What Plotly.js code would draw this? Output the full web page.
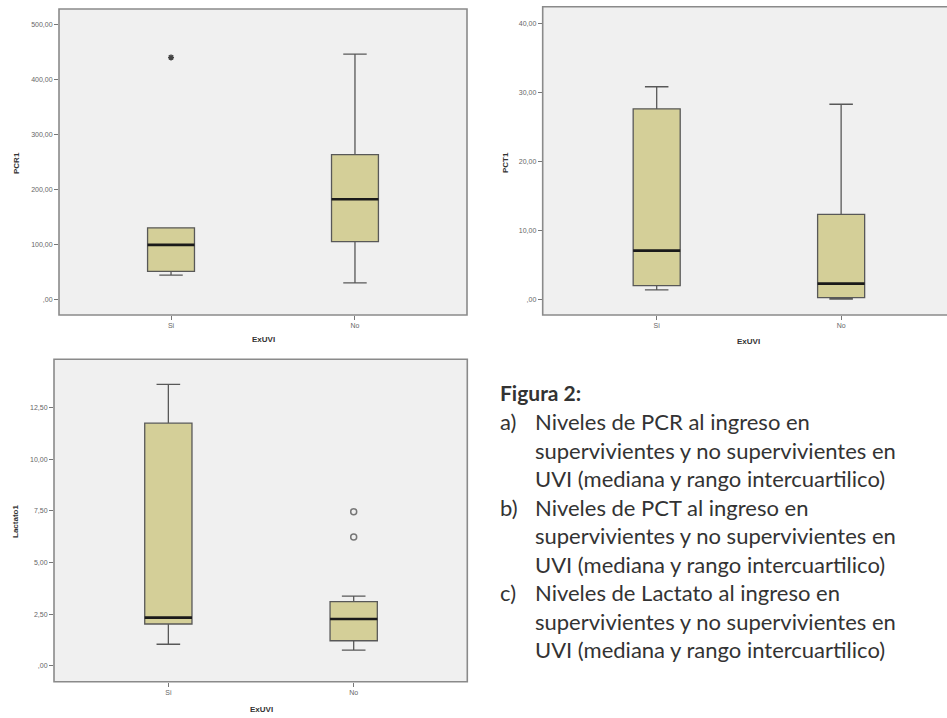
<!DOCTYPE html>
<html>
<head>
<meta charset="utf-8">
<script src="https://cdn.plot.ly/plotly-3.0.1.min.js"></script>
<style>html,body{margin:0;padding:0;background:#fff;}#chart{width:947px;height:718px;}</style>
</head>
<body>
<div id="chart"></div>
<script>
// ---------- DATA ----------
const categories = ["Si", "No"];
const catPos = [0, 1];

// Panel a) PCR1
const pcrQ1 = [51, 105];
const pcrMedian = [99, 182];
const pcrQ3 = [130, 263];
const pcrLowerWhisker = [44, 30];
const pcrUpperWhisker = [130, 446];
const pcrExtremeX = ["Si"];
const pcrExtremeY = [440];
const pcrTicks = [0, 100, 200, 300, 400, 500];
const pcrTickText = [",00", "100,00", "200,00", "300,00", "400,00", "500,00"];

// Panel b) PCT1
const pctQ1 = [1.97, 0.23];
const pctMedian = [7.05, 2.26];
const pctQ3 = [27.6, 12.3];
const pctLowerWhisker = [1.35, 0.04];
const pctUpperWhisker = [30.8, 28.26];
const pctTicks = [0, 10, 20, 30, 40];
const pctTickText = [",00", "10,00", "20,00", "30,00", "40,00"];

// Panel c) Lactato1
const lacQ1 = [2.03, 1.22];
const lacMedian = [2.34, 2.27];
const lacQ3 = [11.74, 3.11];
const lacLowerWhisker = [1.05, 0.77];
const lacUpperWhisker = [13.62, 3.38];
const lacOutlierX = ["No", "No"];
const lacOutlierY = [7.46, 6.24];
const lacTicks = [0, 2.5, 5, 7.5, 10, 12.5];
const lacTickText = [",00", "2,50", "5,00", "7,50", "10,00", "12,50"];

const xTitle = "ExUVI";
const captionTitle = "Figura 2:";
const captionItems = [
  ["a)", "Niveles de PCR al ingreso en", "supervivientes y no supervivientes en", "UVI (mediana y rango intercuartilico)"],
  ["b)", "Niveles de PCT al ingreso en", "supervivientes y no supervivientes en", "UVI (mediana y rango intercuartilico)"],
  ["c)", "Niveles de Lactato al ingreso en", "supervivientes y no supervivientes en", "UVI (mediana y rango intercuartilico)"]
];

// ---------- STYLE ----------
const W = 947, H = 718;
const boxFill = "#d4cf98";
const boxLine = "#585858";
const BOXW = 0.255;
const tickFont = {family: "Liberation Sans, Arial, sans-serif", size: 7, color: "#666666"};
const titleFont = {family: "Liberation Sans, Arial, sans-serif", size: 8, color: "#333", weight: "bold"};

function catIndex(c) { return catPos[categories.indexOf(c)]; }

function boxTrace(q1, med, q3, lf, uf, xa, ya) {
  return {
    type: "box", x: catPos, q1: q1, median: med, q3: q3, lowerfence: lf, upperfence: uf,
    xaxis: xa, yaxis: ya, width: BOXW, whiskerwidth: 0.5,
    fillcolor: boxFill, line: {color: boxLine, width: 1.3},
    boxpoints: false, showlegend: false, hoverinfo: "skip"
  };
}
function medianTrace(med, xa, ya) {
  const xs = [], ys = [];
  med.forEach((m, i) => { xs.push(catPos[i] - BOXW / 2, catPos[i] + BOXW / 2, null); ys.push(m, m, null); });
  return {type: "scatter", mode: "lines", x: xs, y: ys, xaxis: xa, yaxis: ya,
    line: {color: "#1a1a1a", width: 2.6}, showlegend: false, hoverinfo: "skip"};
}

const traces = [
  boxTrace(pcrQ1, pcrMedian, pcrQ3, pcrLowerWhisker, pcrUpperWhisker, "x", "y"),
  medianTrace(pcrMedian, "x", "y"),
  {type: "scatter", mode: "markers", x: pcrExtremeX.map(catIndex), y: pcrExtremeY, xaxis: "x", yaxis: "y",
    marker: {symbol: "asterisk-open", size: 5, color: "#444", line: {color: "#444", width: 1.5}},
    showlegend: false, hoverinfo: "skip"},
  boxTrace(pctQ1, pctMedian, pctQ3, pctLowerWhisker, pctUpperWhisker, "x2", "y2"),
  medianTrace(pctMedian, "x2", "y2"),
  boxTrace(lacQ1, lacMedian, lacQ3, lacLowerWhisker, lacUpperWhisker, "x3", "y3"),
  medianTrace(lacMedian, "x3", "y3"),
  {type: "scatter", mode: "markers", x: lacOutlierX.map(catIndex), y: lacOutlierY, xaxis: "x3", yaxis: "y3",
    marker: {symbol: "circle-open", size: 6, color: "#777", line: {color: "#777", width: 1.5}},
    showlegend: false, hoverinfo: "skip"}
];

function xAxis(dom, rng, anchor) {
  return {domain: dom, range: rng, anchor: anchor, tickmode: "array", tickvals: catPos, ticktext: categories,
    ticks: "outside", ticklen: 4, tickcolor: "#777", tickwidth: 1, showline: false, showgrid: false,
    zeroline: false, tickfont: tickFont, fixedrange: true};
}
function yAxis(dom, rng, anchor, tv, tt) {
  return {domain: dom, range: rng, anchor: anchor, tickmode: "array", tickvals: tv, ticktext: tt,
    ticks: "outside", ticklen: 4, tickcolor: "#777", tickwidth: 1, showline: false, showgrid: false,
    zeroline: false, tickfont: tickFont, fixedrange: true};
}

function frame(xr, yr, x1) {
  return {type: "rect", xref: xr + " domain", yref: yr + " domain", x0: 0, x1: x1, y0: 0, y1: 1,
    line: {color: "#8a8a8a", width: 1.6}, fillcolor: "rgba(0,0,0,0)", layer: "above"};
}

const px = v => v / W, py = v => 1 - v / H;

const annotations = [
  {text: "PCR1", x: px(16), y: py(163), textangle: -90},
  {text: "PCT1", x: px(505), y: py(162), textangle: -90},
  {text: "Lactato1", x: px(15), y: py(521), textangle: -90},
  {text: xTitle, x: px(263), y: py(340)},
  {text: xTitle, x: px(748), y: py(341.5)},
  {text: xTitle, x: px(261), y: py(709)}
].map(a => Object.assign({xref: "paper", yref: "paper", showarrow: false, font: titleFont,
  xanchor: "center", yanchor: "middle"}, a));

const capFont = {family: "Lato, Open Sans, sans-serif", size: 22, color: "#333"};
annotations.push({text: "<b>" + captionTitle + "</b>", xref: "paper", yref: "paper", x: px(498), y: py(392),
  xanchor: "left", yanchor: "middle", showarrow: false,
  font: {family: "Lato, Open Sans, sans-serif", size: 21, color: "#333"}});
const lineStep = 28.5;
captionItems.forEach((item, k) => {
  const y0 = 421.7 + k * 3 * lineStep;
  annotations.push({text: item[0], xref: "paper", yref: "paper", x: px(498), y: py(y0), xanchor: "left",
    yanchor: "middle", showarrow: false, font: capFont});
  for (let j = 1; j < item.length; j++) {
    annotations.push({text: item[j], xref: "paper", yref: "paper", x: px(533), y: py(y0 + (j - 1) * lineStep),
      xanchor: "left", yanchor: "middle", showarrow: false, font: capFont});
  }
});

const layout = {
  width: W, height: H, margin: {l: 0, r: 0, t: 0, b: 0},
  paper_bgcolor: "#ffffff", plot_bgcolor: "#f0f0f0", showlegend: false,
  xaxis: xAxis([px(59), px(467)], [-0.609, 1.609], "y"),
  yaxis: yAxis([py(315), py(9)], [-28.5, 528], "x", pcrTicks, pcrTickText),
  xaxis2: xAxis([px(542.7), 1], [-0.618, 1.574], "y2"),
  yaxis2: yAxis([py(315), py(6.7)], [-2.28, 42.4], "x2", pctTicks, pctTickText),
  xaxis3: xAxis([px(54), px(467.3)], [-0.617, 1.613], "y3"),
  yaxis3: yAxis([py(681.7), py(359.3)], [-0.76, 14.83], "x3", lacTicks, lacTickText),
  shapes: [frame("x", "y", 1), frame("x2", "y2", 1.03), frame("x3", "y3", 1)],
  annotations: annotations
};

Plotly.newPlot("chart", traces, layout, {displayModeBar: false, staticPlot: true});
</script>
</body>
</html>
